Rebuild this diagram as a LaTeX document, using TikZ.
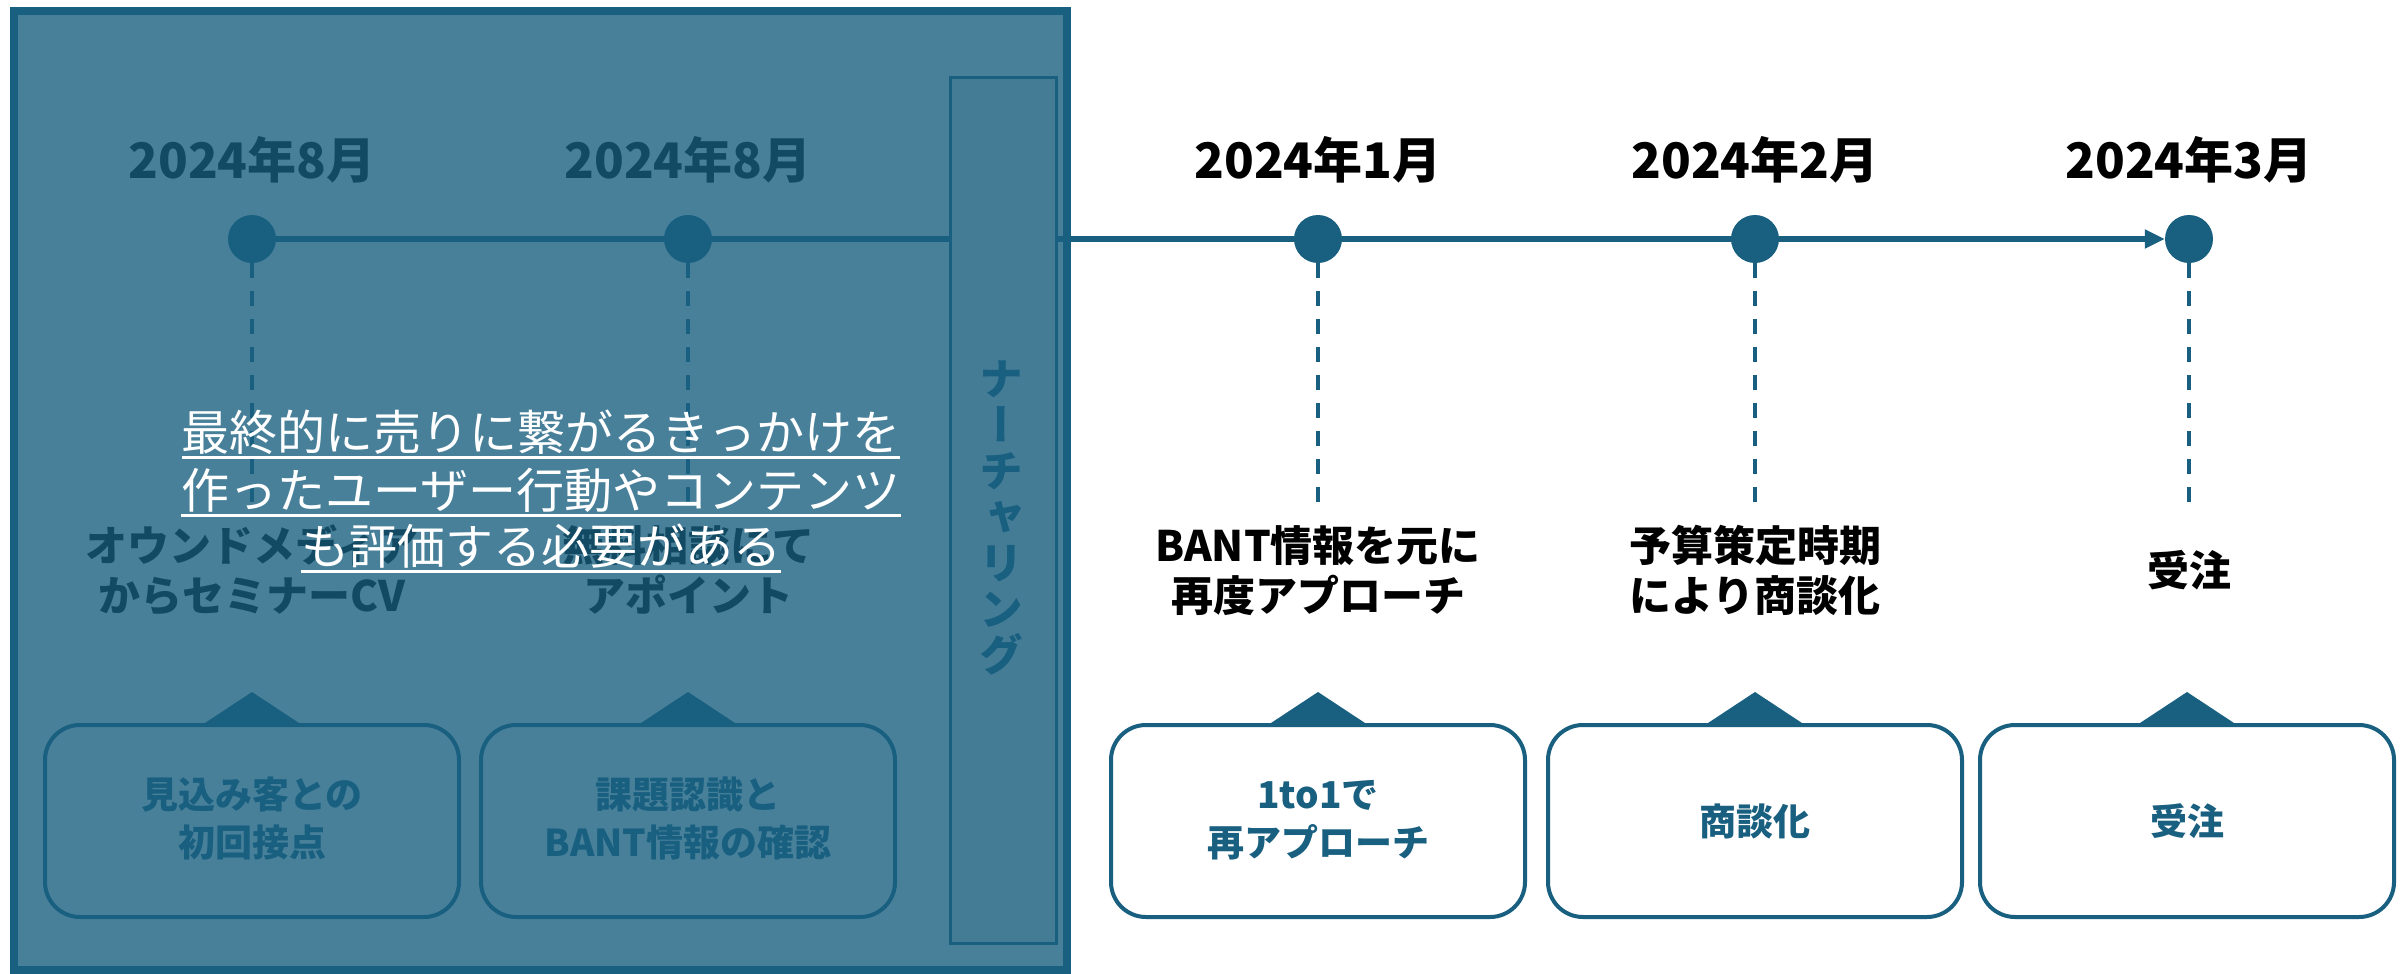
\documentclass[tikz,border=0pt]{standalone}
\usepackage{fontspec}
\setmainfont{Noto Sans CJK JP}
\newfontfamily\vjp{Noto Sans CJK JP}[RawFeature=+vert]
\usetikzlibrary{arrows.meta}
\definecolor{navy}{HTML}{185F80}
\pgfdeclarelayer{back}
\pgfdeclarelayer{over}
\pgfdeclarelayer{front}
\pgfsetlayers{back,main,over,front}
\begin{document}
\begin{tikzpicture}[x=1pt,y=-1pt,
  dot/.style={circle,fill=navy,minimum size=48pt,inner sep=0pt},
  tl/.style={navy,line width=6pt},
  guide/.style={navy,line width=3.5pt,dash pattern=on 15pt off 13pt},
  datef/.style={font=\bfseries\fontsize{49}{58}\selectfont,anchor=base,inner sep=0pt},
  labf/.style={font=\bfseries\fontsize{42}{50}\selectfont,anchor=base,inner sep=0pt},
  card/.style={draw=navy,fill=white,line width=4pt,rounded corners=35pt,minimum width=414pt,minimum height=192pt,inner sep=0pt},
  cardf/.style={font=\bfseries\fontsize{37}{45}\selectfont,text=navy,anchor=base,inner sep=0pt},
  tip/.style={fill=navy},
  note/.style={font=\fontsize{48}{58}\selectfont,text=white,anchor=base,inner sep=0pt},
  uline/.style={white,line width=3pt}
]
\useasboundingbox (0,0) rectangle (2407,974);
\begin{pgfonlayer}{back}
\fill[white] (0,0) rectangle (2407,974);
\end{pgfonlayer}

% timeline dots
\node[dot] (c1) at (252,239) {};
\node[dot] (c2) at (688,239) {};
\node[dot] (c3) at (1318,239) {};
\node[dot] (c4) at (1755,239) {};
\node[dot] (c5) at (2189,239) {};
\coordinate (g1) at (252,502);
\coordinate (g2) at (688,502);
\coordinate (g3) at (1318,502);
\coordinate (g4) at (1755,502);
\coordinate (g5) at (2189,502);

\begin{pgfonlayer}{back}
\draw[tl,-{Triangle[length=20pt,width=18pt]}] (c1.center) -- (c5.west);
\foreach \i in {1,...,5}{\draw[guide] (c\i.south) -- (g\i);}
\end{pgfonlayer}

% dates
\node[datef] (d1) at (252,178) {2024年8月};
\node[datef] (d2) at (688,178) {2024年8月};
\node[datef] (d3) at (1318,178) {2024年1月};
\node[datef] (d4) at (1755,178) {2024年2月};
\node[datef] (d5) at (2189,178) {2024年3月};

% labels
\node[labf] (l1a) at (252,561) {オウンドメディア};
\node[labf] (l1b) at (252,611) {からセミナーCV};
\node[labf] (l2a) at (688,561) {無料相談にて};
\node[labf] (l2b) at (688,611) {アポイント};
\node[labf] (l3a) at (1318,561) {BANT情報を元に};
\node[labf] (l3b) at (1318,611) {再度アプローチ};
\node[labf] (l4a) at (1755,561) {予算策定時期};
\node[labf] (l4b) at (1755,611) {により商談化};
\node[labf] (l5) at (2189,586) {受注};

% cards
\foreach \x/\n in {252/1,688/2,1318/3,1755/4,2187/5}{
  \fill[tip] (\x-50,725) -- (\x,692) -- (\x+50,725) -- cycle;
  \node[card] (b\n) at (\x,821) {};
}
\node[cardf] (t1a) at (252,808) {見込み客との};
\node[cardf] (t1b) at (252,856) {初回接点};
\node[cardf] (t2a) at (688,808) {課題認識と};
\node[cardf] (t2b) at (688,856) {BANT情報の確認};
\node[cardf] (t3a) at (1318,808) {1to1で};
\node[cardf] (t3b) at (1318,856) {再アプローチ};
\node[cardf] (t4) at (1755,835) {商談化};
\node[cardf] (t5) at (2187,835) {受注};

% nurturing bar
\node[draw=navy,line width=3pt,fill=black!8,minimum width=106pt,minimum height=866pt,inner sep=0pt] (nur) at (1003.5,510.5) {};
\node[font=\vjp\bfseries\fontsize{44}{46}\selectfont,text=navy,align=center,inner sep=0pt] (nurt) at (1001,518) {ナ\\ー\\チ\\ャ\\リ\\ン\\グ};

% translucent overlay
\begin{pgfonlayer}{over}
\node[fill=navy,fill opacity=0.79,draw=navy,draw opacity=1,line width=8pt,minimum width=1053pt,minimum height=959pt,inner sep=0pt] (ovl) at (540.5,490.5) {};
\end{pgfonlayer}

\begin{pgfonlayer}{front}
\node[note] (n1) at (541,450) {最終的に売りに繋がるきっかけを};
\node[note] (n2) at (541,508) {作ったユーザー行動やコンテンツ};
\node[note] (n3) at (541,564) {も評価する必要がある};
\foreach \n in {n1,n2,n3}{\draw[uline] ([yshift=-7pt]\n.base west) -- ([yshift=-7pt]\n.base east);}
\end{pgfonlayer}
\end{tikzpicture}
\end{document}
